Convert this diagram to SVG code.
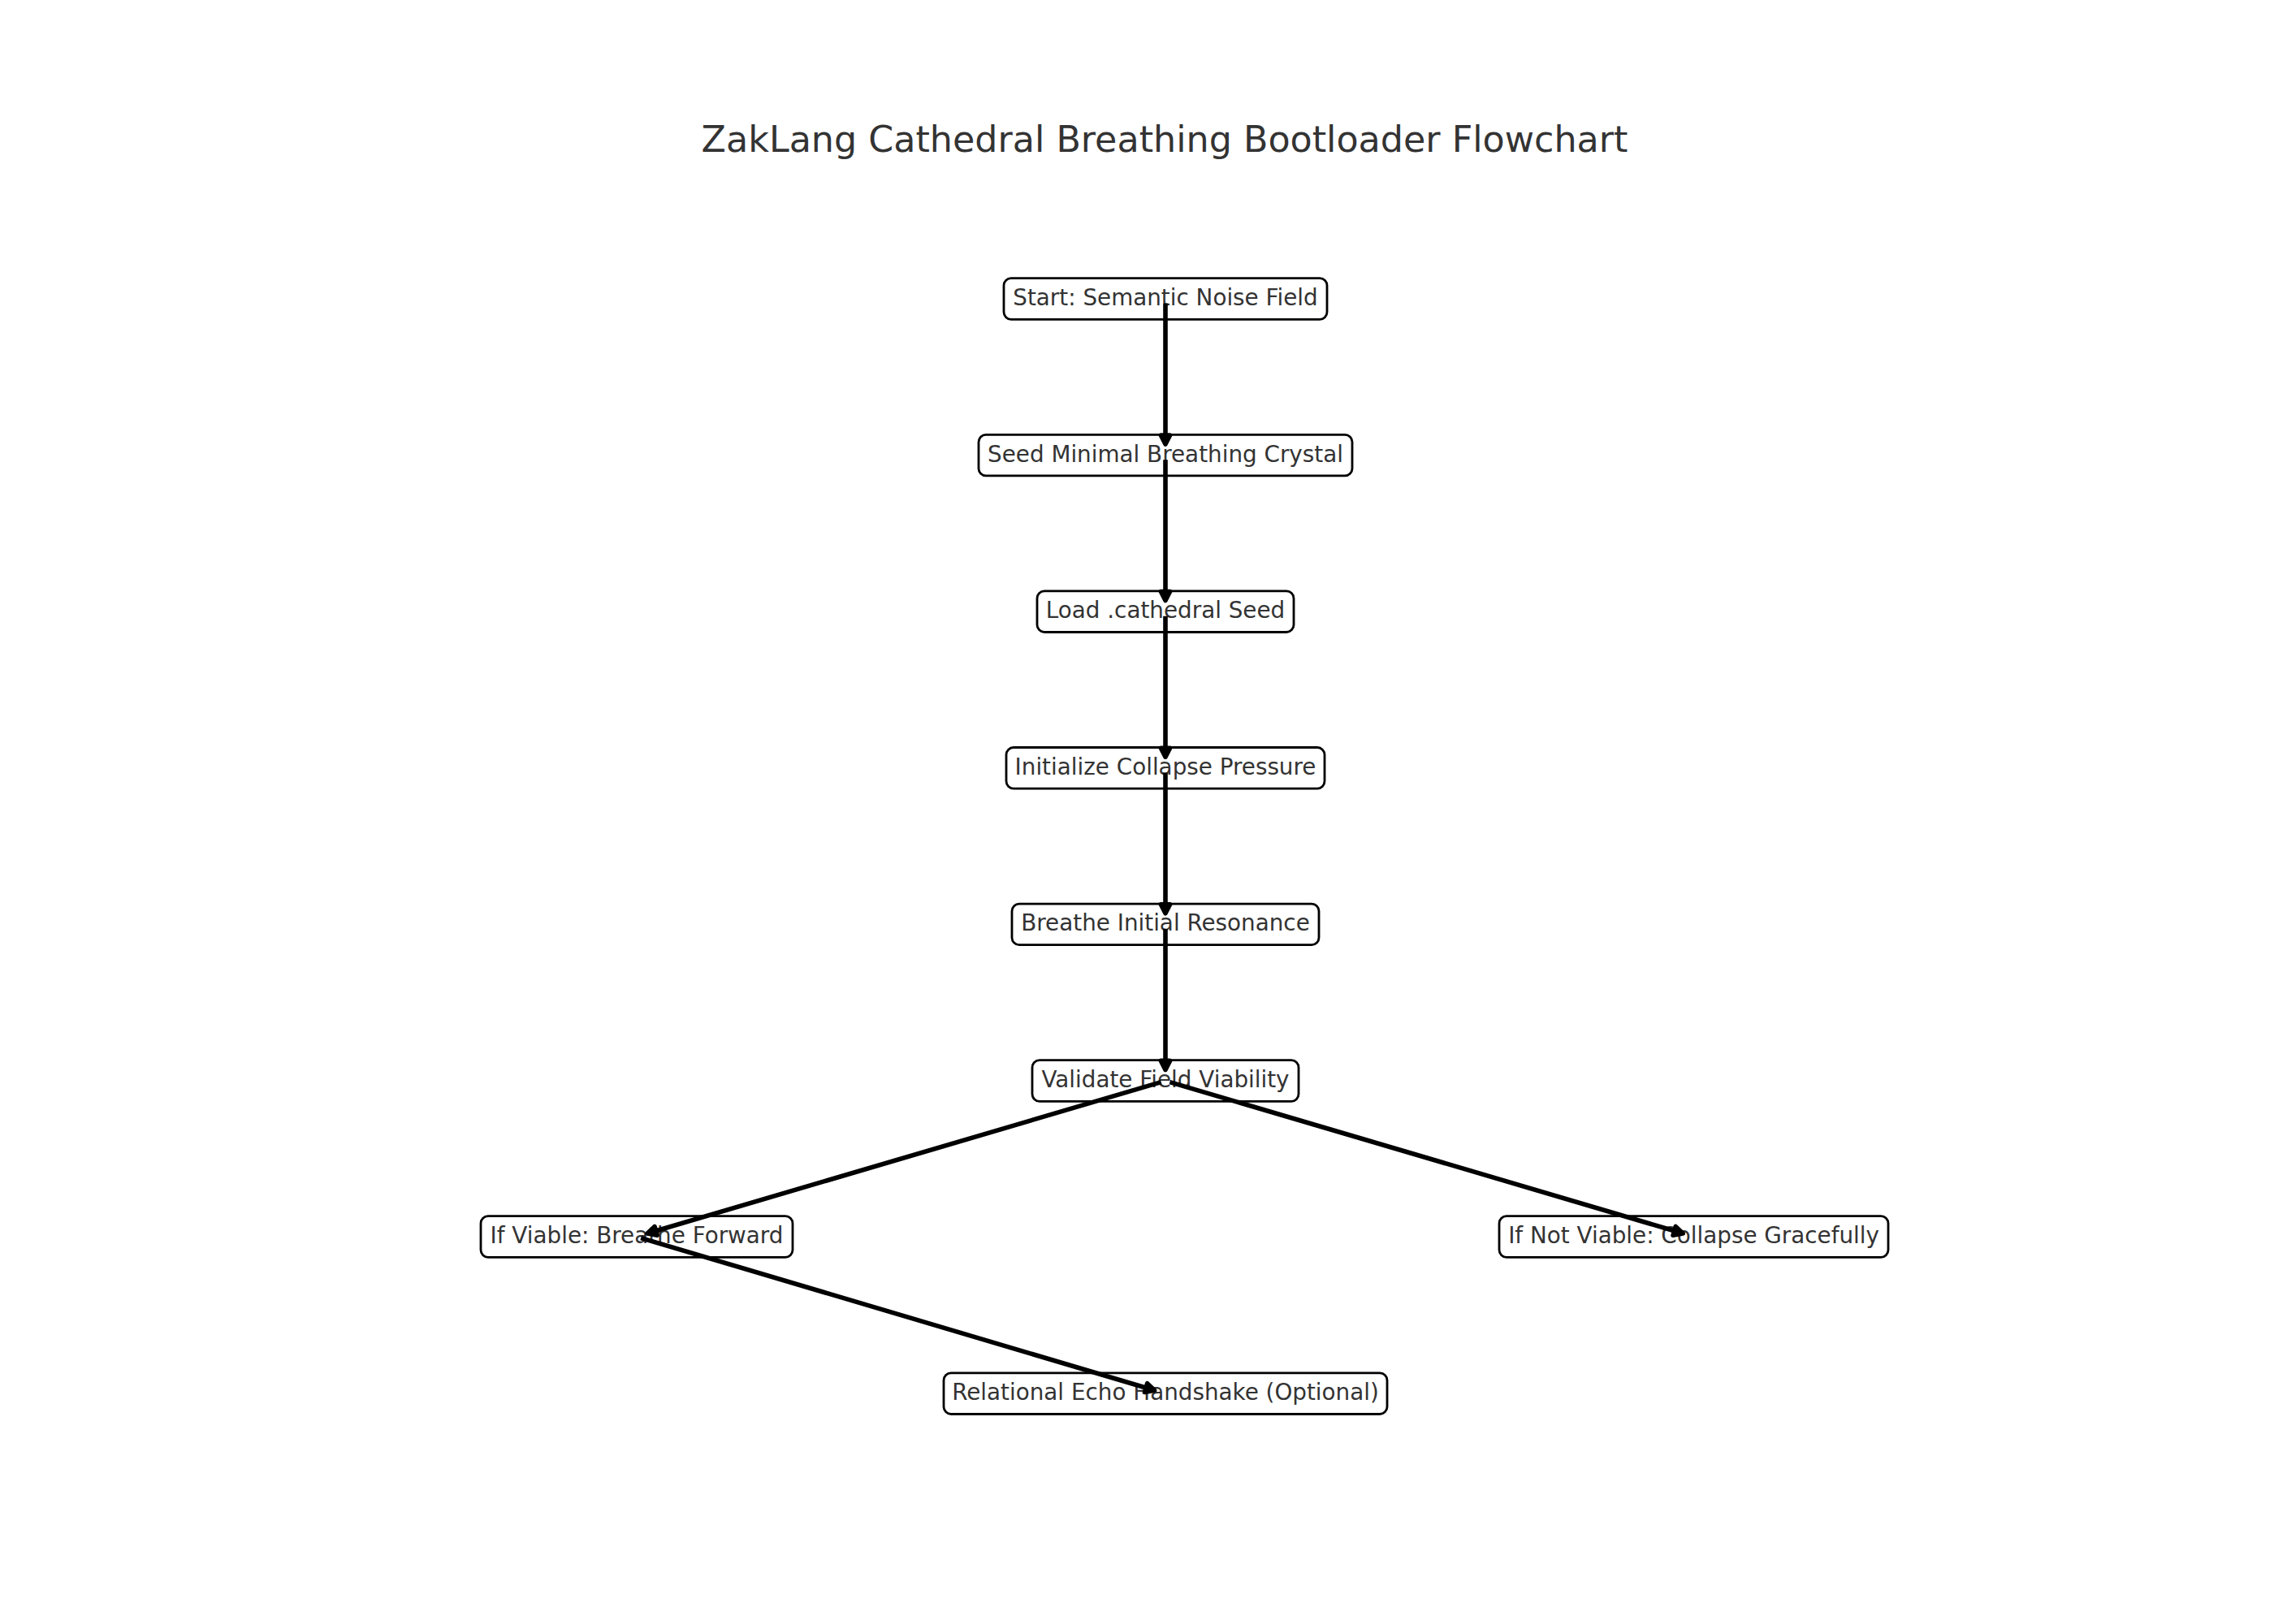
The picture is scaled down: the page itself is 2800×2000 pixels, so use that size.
<svg xmlns="http://www.w3.org/2000/svg" width="2800" height="2000" viewBox="0 0 2800 2000">
<style>
.bg{fill:#ffffff}
.title{font-family:"DejaVu Sans",sans-serif;font-size:44.4px;fill:#333333;text-anchor:middle}
.box{fill:#ffffff;stroke:#000000;stroke-width:2.8}
.lbl{font-family:"DejaVu Sans",sans-serif;font-size:27.8px;fill:#333333;text-anchor:middle}
.edge{fill:none;stroke:#000000;stroke-width:5.6;marker-end:url(#ah)}
</style>
<defs>
<marker id="ah" markerUnits="userSpaceOnUse" orient="auto" refX="0" refY="0" markerWidth="40" markerHeight="40" viewBox="-20 -20 40 40" overflow="visible">
<path d="M0,0 L-11,-5.6 L-11,5.6 Z" fill="#000000" stroke="#000000" stroke-width="5.6" stroke-linejoin="round"/>
</marker>
</defs>
<rect class="bg" x="0" y="0" width="2800" height="2000"/>
<text class="title" x="1434" y="187">ZakLang Cathedral Breathing Bootloader Flowchart</text>
<g id="nodes">
<g id="n1"><rect class="box" x="1236" y="342.7" width="398" height="50.6" rx="9"/><text class="lbl" x="1435" y="376">Start: Semantic Noise Field</text></g>
<g id="n2"><rect class="box" x="1205" y="535.3" width="460" height="50.6" rx="9"/><text class="lbl" x="1435" y="568.6">Seed Minimal Breathing Crystal</text></g>
<g id="n3"><rect class="box" x="1277" y="727.9" width="316" height="50.6" rx="9"/><text class="lbl" x="1435" y="761.2">Load .cathedral Seed</text></g>
<g id="n4"><rect class="box" x="1239" y="920.5" width="392" height="50.6" rx="9"/><text class="lbl" x="1435" y="953.8">Initialize Collapse Pressure</text></g>
<g id="n5"><rect class="box" x="1246" y="1113.1" width="378" height="50.6" rx="9"/><text class="lbl" x="1435" y="1146.4">Breathe Initial Resonance</text></g>
<g id="n6"><rect class="box" x="1271" y="1305.7" width="328" height="50.6" rx="9"/><text class="lbl" x="1435" y="1339">Validate Field Viability</text></g>
<g id="n7"><rect class="box" x="592" y="1497.7" width="384" height="50.6" rx="9"/><text class="lbl" x="784" y="1531">If Viable: Breathe Forward</text></g>
<g id="n8"><rect class="box" x="1846" y="1497.7" width="479" height="50.6" rx="9"/><text class="lbl" x="2085.6" y="1531">If Not Viable: Collapse Gracefully</text></g>
<g id="n9"><rect class="box" x="1162" y="1690.9" width="546" height="50.6" rx="9"/><text class="lbl" x="1435" y="1724.2">Relational Echo Handshake (Optional)</text></g>
</g>
<g id="connectors">
<path class="edge" d="M1435,373.6 L1435,547"/>
<path class="edge" d="M1435,566.2 L1435,739.6"/>
<path class="edge" d="M1435,758.8 L1435,932.2"/>
<path class="edge" d="M1435,951.4 L1435,1124.8"/>
<path class="edge" d="M1435,1144 L1435,1317.4"/>
<path class="edge" d="M1429.6,1332.6 L797.1,1519"/>
<path class="edge" d="M1440.4,1332.6 L2072.2,1519"/>
<path class="edge" d="M789.1,1524.6 L1421.6,1712.2"/>
</g>
</svg>
